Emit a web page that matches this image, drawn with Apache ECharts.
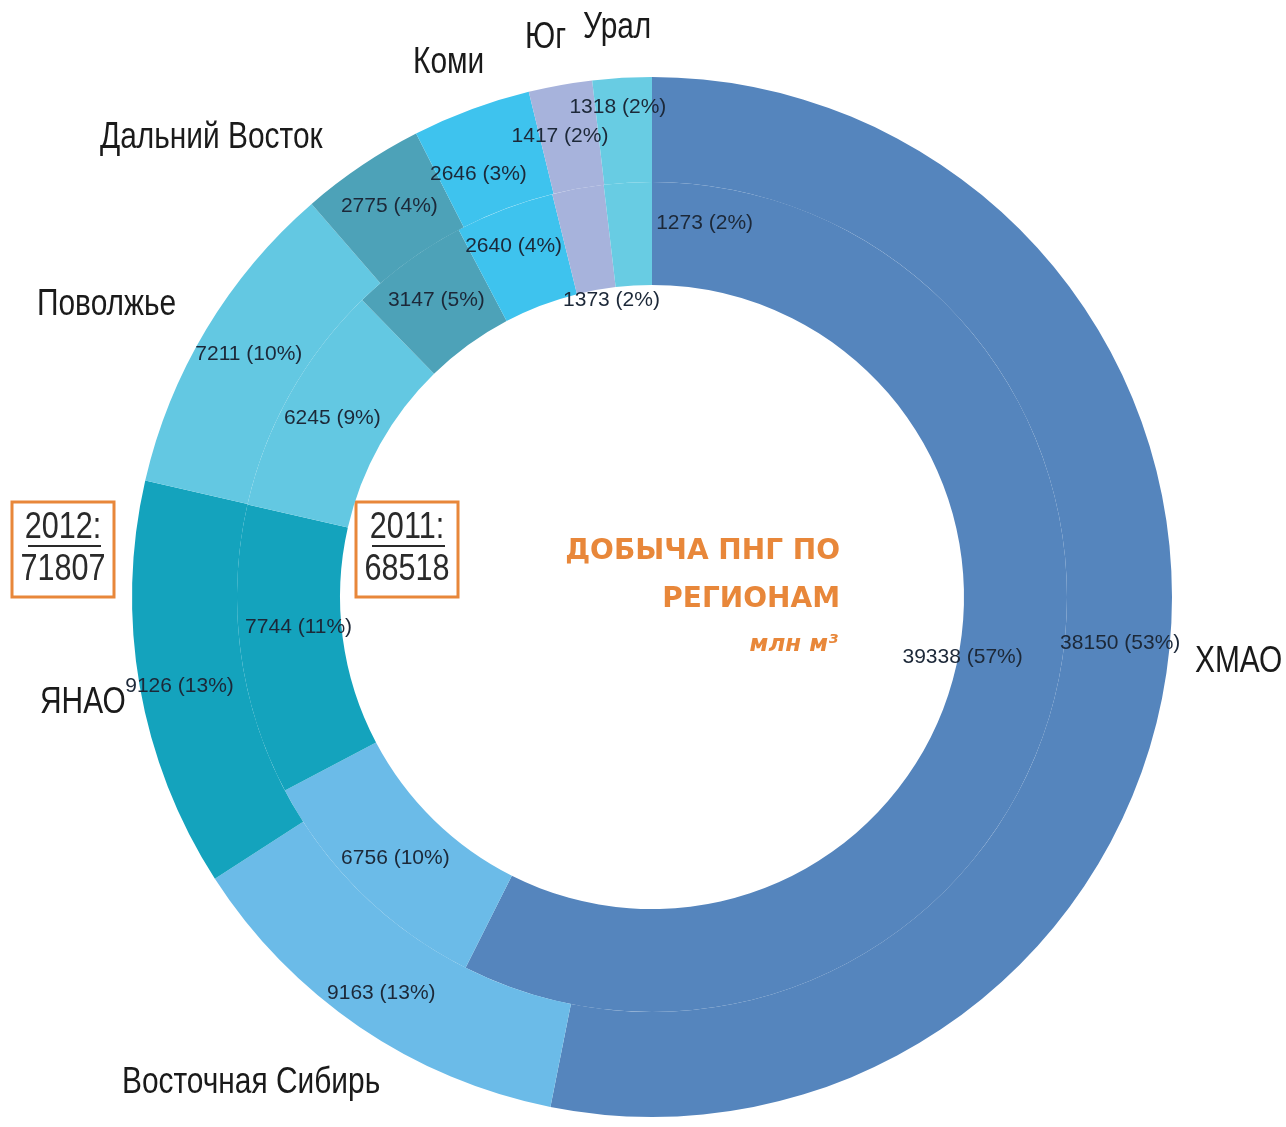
<!DOCTYPE html>
<html><head><meta charset="utf-8">
<script src="https://cdn.jsdelivr.net/npm/echarts@6/dist/echarts.min.js"></script>
<style>html,body{margin:0;padding:0;background:#fff}#c{width:1286px;height:1127px}</style>
</head><body><div id="c"></div>
<script>
// ---- data ----
const regions = ['ХМАО', 'Восточная Сибирь', 'ЯНАО', 'Поволжье', 'Дальний Восток', 'Коми', 'Юг', 'Урал'];
const values2011 = [39338, 6756, 7744, 6245, 3147, 2640, 1373, 1273];
const values2012 = [38150, 9163, 9126, 7211, 2775, 2646, 1417, 1318];
const total2011 = 68518;
const total2012 = 71807;
const titleLines = ['ДОБЫЧА ПНГ ПО', 'РЕГИОНАМ'];
const unitText = 'млн м³';

// ---- styles ----
const colors = ['#5585BD', '#6BBBE8', '#14A3BD', '#63C8E2', '#4DA2B8', '#3EC3EE', '#A7B3DC', '#68CCE3'];
const SANS = '"Liberation Sans", Arial, sans-serif';
const ORANGE = '#E8873A';
const CX = 652, CY = 597;
const R0 = 312, R1 = 415, R2 = 520;

const offsets2011 = {'ХМАО': [-46, -24], 'ЯНАО': [10, -17], 'Коми': [-8, -8], 'Юг': [25, 64], 'Урал': [74, -8]};
const offsets2012 = {'Коми': [-10, 18], 'Юг': [-9, 2], 'Урал': [-7, -20], 'ЯНАО': [-9, 8], 'Восточная Сибирь': [-6, 7]};

const nameLayout = {
  'ХМАО': [1195, 662],
  'Восточная Сибирь': [122, 1083],
  'ЯНАО': [40, 703],
  'Поволжье': [37, 305],
  'Дальний Восток': [100, 138],
  'Коми': [413, 63],
  'Юг': [525, 38],
  'Урал': [583, 28]
};

function buildData(vals, offs) {
  return regions.map((n, i) => {
    const d = {name: n, value: vals[i], itemStyle: {color: colors[i]}};
    if (offs[n]) d.label = {offset: offs[n]};
    return d;
  });
}

const labelStyle = {
  show: true, position: 'inside', formatter: '{c} ({d}%)',
  fontFamily: SANS, fontSize: 21, color: '#1c2838'
};

const graphics = [];
regions.forEach(n => {
  const p = nameLayout[n];
  graphics.push({type: 'text', x: p[0], y: p[1], scaleX: 0.83, style: {
    text: n, font: '36px ' + SANS, fill: '#1a1a1a', textAlign: 'left', textVerticalAlign: 'middle'}});
});
// centre title
graphics.push({type: 'text', x: 840, y: 552, style: {text: titleLines[0], font: 'bold 28px "DejaVu Sans", sans-serif', fill: ORANGE, textAlign: 'right', textVerticalAlign: 'middle'}});
graphics.push({type: 'text', x: 840, y: 600, style: {text: titleLines[1], font: 'bold 28px "DejaVu Sans", sans-serif', fill: ORANGE, textAlign: 'right', textVerticalAlign: 'middle'}});
graphics.push({type: 'text', x: 838, y: 645, style: {text: unitText, font: 'italic bold 23px "DejaVu Sans", sans-serif', fill: ORANGE, textAlign: 'right', textVerticalAlign: 'middle'}});
// year boxes
function yearBox(x, year, total) {
  graphics.push({type: 'rect', shape: {x: x, y: 502, width: 102, height: 95}, style: {fill: '#fff', stroke: ORANGE, lineWidth: 3}});
  graphics.push({type: 'text', x: x + 51, y: 528, scaleX: 0.85, style: {text: year + ':', font: '36px ' + SANS, fill: '#2a2a2a', textAlign: 'center', textVerticalAlign: 'middle'}});
  graphics.push({type: 'line', shape: {x1: x + 16, y1: 546, x2: x + 89, y2: 546}, style: {stroke: '#2a2a2a', lineWidth: 2}});
  graphics.push({type: 'text', x: x + 51, y: 570, scaleX: 0.85, style: {text: String(total), font: '36px ' + SANS, fill: '#2a2a2a', textAlign: 'center', textVerticalAlign: 'middle'}});
}
yearBox(12, 2012, total2012);
yearBox(356, 2011, total2011);

const chart = echarts.init(document.getElementById('c'), null, {renderer: 'canvas'});
chart.setOption({
  backgroundColor: '#fff',
  animation: false,
  series: [
    {type: 'pie', center: [CX, CY], radius: [R0, R1], startAngle: 90, clockwise: true,
     percentPrecision: 0, avoidLabelOverlap: false, label: labelStyle, labelLine: {show: false},
     emphasis: {disabled: true}, data: buildData(values2011, offsets2011), z: 2},
    {type: 'pie', center: [CX, CY], radius: [R1, R2], startAngle: 90, clockwise: true,
     percentPrecision: 0, avoidLabelOverlap: false, label: labelStyle, labelLine: {show: false},
     emphasis: {disabled: true}, data: buildData(values2012, offsets2012), z: 2}
  ],
  graphic: graphics
});
</script></body></html>
